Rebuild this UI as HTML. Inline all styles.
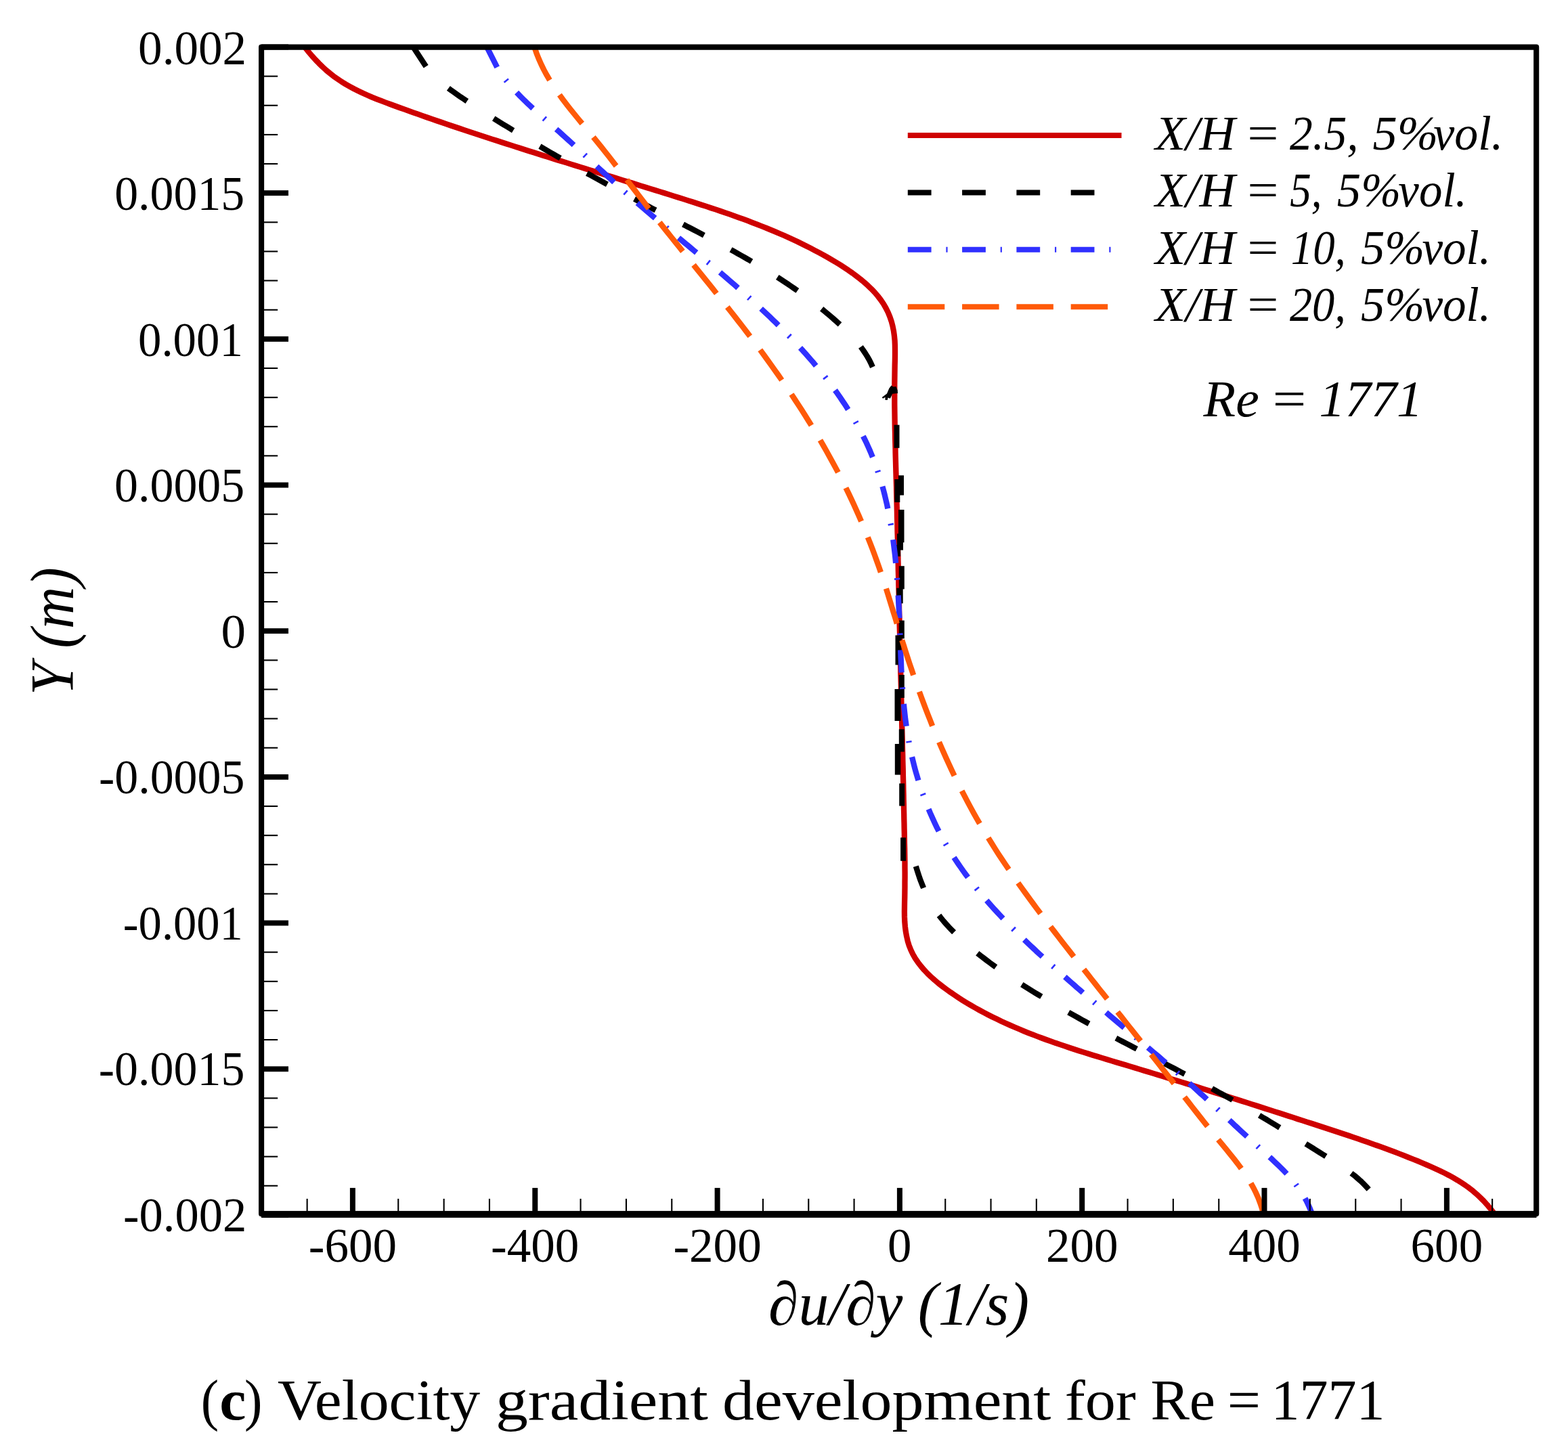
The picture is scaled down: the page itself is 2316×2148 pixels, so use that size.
<!DOCTYPE html>
<html lang="en">
<head>
<meta charset="utf-8">
<title>Velocity gradient development for Re = 1771</title>
<style>
html,body{margin:0;padding:0;background:#fff;}
body{width:2316px;height:2148px;overflow:hidden;}
svg{display:block;}
</style>
</head>
<body>
<svg width="2316" height="2148" viewBox="0 0 2316 2148">
<defs><clipPath id="plot"><rect x="386.1" y="69.5" width="1883.1" height="1724.4"/></clipPath></defs>
<rect width="2316" height="2148" fill="#fff"/>
<g clip-path="url(#plot)" fill="none" stroke-linecap="butt" stroke-linejoin="round">
<path d="M447.7 66.3 L452.1 72 L456.6 77.6 L461.3 83.1 L466.2 88.5 L471.2 93.7 L476.4 98.8 L481.8 103.7 L487.3 108.3 L493 112.8 L498.9 116.9 L504.8 120.9 L510.9 124.6 L517.1 128.1 L523.4 131.5 L529.9 134.7 L536.3 137.8 L542.9 140.7 L549.5 143.6 L556.2 146.3 L563 148.9 L569.7 151.5 L576.5 154 L583.3 156.5 L590.1 159 L597 161.4 L603.8 163.9 L610.6 166.3 L617.4 168.7 L624.2 171.1 L631 173.5 L637.9 175.9 L644.7 178.2 L651.5 180.5 L658.3 182.9 L665.2 185.2 L672 187.5 L678.8 189.8 L685.7 192.1 L692.5 194.4 L699.3 196.6 L706.2 198.9 L713 201.1 L719.9 203.4 L726.7 205.6 L733.6 207.8 L740.4 210 L747.3 212.2 L754.1 214.4 L761 216.6 L767.8 218.8 L774.7 221 L781.6 223.2 L788.4 225.3 L795.3 227.5 L802.2 229.7 L809.1 231.8 L815.9 234 L822.8 236.2 L829.7 238.3 L836.6 240.4 L843.5 242.6 L850.4 244.7 L857.3 246.9 L864.1 249 L871 251.1 L877.9 253.3 L884.8 255.4 L891.7 257.5 L898.6 259.7 L905.5 261.8 L912.4 263.9 L919.3 266.1 L926.2 268.2 L933.1 270.3 L940 272.5 L946.9 274.6 L953.8 276.7 L960.7 278.9 L967.6 281 L974.5 283.1 L981.4 285.3 L988.2 287.4 L995.1 289.6 L1002 291.7 L1008.9 293.9 L1015.8 296.1 L1022.7 298.3 L1029.5 300.5 L1036.4 302.7 L1043.3 304.9 L1050.1 307.2 L1056.9 309.4 L1063.8 311.7 L1070.6 314.1 L1077.4 316.4 L1084.2 318.8 L1091 321.3 L1097.7 323.7 L1104.5 326.2 L1111.2 328.8 L1117.9 331.3 L1124.6 334 L1131.3 336.6 L1137.9 339.4 L1144.6 342.1 L1151.2 345 L1157.8 347.8 L1164.4 350.8 L1170.9 353.8 L1177.4 356.8 L1183.9 360 L1190.4 363.2 L1196.8 366.4 L1203.2 369.8 L1209.6 373.2 L1216 376.6 L1222.3 380.2 L1228.6 383.8 L1234.8 387.5 L1241 391.3 L1247.1 395.3 L1253.2 399.3 L1259.2 403.5 L1265 407.8 L1270.7 412.2 L1276.3 416.9 L1281.7 421.7 L1286.9 426.7 L1291.9 431.9 L1296.6 437.4 L1301 443.1 L1305 449 L1308.5 455.1 L1311.7 461.5 L1314.4 468.1 L1316.7 474.8 L1318.5 481.7 L1319.9 488.7 L1320.9 495.8 L1321.6 502.9 L1321.9 510.2 L1322 517.5 L1322 524.8 L1321.9 532.1 L1321.7 539.4 L1321.6 546.6 L1321.5 553.9 L1321.4 561.1 L1321.3 568.3 L1321.3 575.5 L1321.3 582.7 L1321.3 589.9 L1321.3 597.1 L1321.4 604.3 L1321.5 611.5 L1321.6 618.7 L1321.7 625.9 L1321.8 633.1 L1322 640.3 L1322.1 647.5 L1322.3 654.7 L1322.5 661.9 L1322.6 669.1 L1322.8 676.4 L1323 683.6 L1323.2 690.8 L1323.4 698 L1323.6 705.2 L1323.8 712.4 L1324 719.6 L1324.1 726.8 L1324.3 734 L1324.5 741.2 L1324.7 748.5 L1324.9 755.7 L1325 762.9 L1325.2 770.1 L1325.4 777.3 L1325.5 784.5 L1325.7 791.7 L1325.9 798.9 L1326 806.1 L1326.2 813.3 L1326.4 820.5 L1326.5 827.7 L1326.7 834.9 L1326.8 842.1 L1327 849.4 L1327.2 856.6 L1327.3 863.8 L1327.5 871 L1327.7 878.2 L1327.8 885.4 L1328 892.6 L1328.1 899.8 L1328.3 907 L1328.5 914.2 L1328.6 921.4 L1328.8 928.7 L1329 935.9 L1329.1 943.1 L1329.3 950.3 L1329.5 957.5 L1329.6 964.7 L1329.8 971.9 L1330 979.2 L1330.2 986.4 L1330.3 993.6 L1330.5 1000.8 L1330.7 1008 L1330.9 1015.2 L1331 1022.4 L1331.2 1029.7 L1331.4 1036.9 L1331.6 1044.1 L1331.7 1051.3 L1331.9 1058.5 L1332.1 1065.7 L1332.2 1073 L1332.4 1080.2 L1332.6 1087.4 L1332.8 1094.6 L1332.9 1101.8 L1333.1 1109 L1333.3 1116.2 L1333.4 1123.4 L1333.6 1130.6 L1333.8 1137.8 L1333.9 1145.1 L1334.1 1152.3 L1334.3 1159.5 L1334.4 1166.7 L1334.6 1173.9 L1334.7 1181.1 L1334.9 1188.3 L1335 1195.5 L1335.2 1202.7 L1335.3 1209.9 L1335.5 1217 L1335.6 1224.2 L1335.8 1231.4 L1335.9 1238.6 L1336 1245.8 L1336.2 1253 L1336.3 1260.2 L1336.4 1267.4 L1336.5 1274.6 L1336.5 1281.8 L1336.6 1289 L1336.6 1296.2 L1336.5 1303.4 L1336.5 1310.7 L1336.4 1317.9 L1336.3 1325.2 L1336.1 1332.5 L1336 1339.8 L1335.9 1347.1 L1336 1354.4 L1336.3 1361.7 L1336.9 1368.9 L1337.8 1376.1 L1339.1 1383.2 L1340.7 1390.2 L1342.8 1397 L1345.4 1403.5 L1348.4 1409.8 L1351.9 1415.9 L1355.9 1421.7 L1360.2 1427.3 L1364.8 1432.7 L1369.8 1438 L1375 1443 L1380.5 1447.9 L1386.1 1452.6 L1391.9 1457.1 L1397.8 1461.5 L1403.8 1465.8 L1409.8 1469.9 L1415.9 1474 L1422 1477.9 L1428.2 1481.7 L1434.4 1485.4 L1440.7 1489 L1447 1492.5 L1453.3 1495.9 L1459.7 1499.2 L1466.1 1502.5 L1472.6 1505.6 L1479 1508.7 L1485.6 1511.7 L1492.1 1514.6 L1498.7 1517.5 L1505.3 1520.3 L1511.9 1523.1 L1518.6 1525.8 L1525.3 1528.4 L1532 1531 L1538.7 1533.5 L1545.5 1536 L1552.3 1538.4 L1559 1540.8 L1565.9 1543.1 L1572.7 1545.4 L1579.5 1547.7 L1586.4 1550 L1593.2 1552.2 L1600.1 1554.4 L1607 1556.5 L1613.9 1558.7 L1620.8 1560.8 L1627.7 1562.9 L1634.6 1565 L1641.6 1567.1 L1648.5 1569.2 L1655.4 1571.3 L1662.3 1573.3 L1669.2 1575.4 L1676.2 1577.5 L1683.1 1579.6 L1690 1581.7 L1696.9 1583.8 L1703.8 1585.9 L1710.7 1588 L1717.6 1590.1 L1724.5 1592.2 L1731.4 1594.4 L1738.3 1596.5 L1745.2 1598.6 L1752.1 1600.8 L1759 1602.9 L1765.9 1605 L1772.7 1607.2 L1779.6 1609.4 L1786.5 1611.5 L1793.4 1613.7 L1800.2 1615.8 L1807.1 1618 L1814 1620.2 L1820.9 1622.4 L1827.7 1624.5 L1834.6 1626.7 L1841.5 1628.9 L1848.3 1631.1 L1855.2 1633.3 L1862.1 1635.5 L1868.9 1637.7 L1875.8 1639.9 L1882.6 1642.1 L1889.5 1644.3 L1896.4 1646.5 L1903.2 1648.7 L1910.1 1650.9 L1916.9 1653.2 L1923.8 1655.4 L1930.6 1657.6 L1937.5 1659.8 L1944.3 1662 L1951.2 1664.3 L1958.1 1666.5 L1964.9 1668.7 L1971.8 1671 L1978.6 1673.3 L1985.4 1675.5 L1992.3 1677.8 L1999.1 1680.1 L2005.9 1682.4 L2012.8 1684.8 L2019.6 1687.2 L2026.4 1689.6 L2033.2 1692 L2040 1694.4 L2046.8 1696.9 L2053.5 1699.4 L2060.3 1701.9 L2067 1704.5 L2073.8 1707.1 L2080.5 1709.8 L2087.2 1712.5 L2093.9 1715.2 L2100.6 1718 L2107.3 1720.8 L2113.9 1723.7 L2120.5 1726.7 L2127 1729.7 L2133.5 1732.9 L2139.9 1736.2 L2146.2 1739.7 L2152.4 1743.3 L2158.4 1747.1 L2164.4 1751 L2170.2 1755.2 L2175.8 1759.6 L2181.3 1764.3 L2186.5 1769.2 L2191.6 1774.3 L2196.5 1779.7 L2201.2 1785.3 L2205.7 1791 L2210 1797" stroke="#cf0000" stroke-width="8.3"/>
<path d="M609.4 68 L629.2 98.2 M662.4 130.4 L666.8 133.7 L671.4 136.9 L675.9 140.1 L680.5 143.3 L685.2 146.4 L689.8 149.5 M729.2 174.9 L734 177.9 L738.8 180.9 L743.6 183.9 L748.4 186.8 L753.3 189.8 L758.1 192.7 M797.4 216.2 L802.4 219.1 L807.5 222.1 L812.5 225 L817.6 227.9 L822.6 230.8 L827.7 233.7 M867 256 L872 258.7 L877 261.5 L882 264.2 L886.9 266.9 L891.9 269.7 L896.9 272.4 M937 293.9 L942.2 296.7 L947.5 299.5 L952.7 302.3 L958 305 L963.3 307.8 L968.5 310.5 M1009 331.5 L1014.1 334.2 L1019.3 336.8 L1024.5 339.5 L1029.6 342.2 L1034.8 344.9 L1039.9 347.6 M1079.5 368.9 L1084.6 371.7 L1089.7 374.6 L1094.9 377.5 L1100 380.4 L1105.1 383.3 L1110.1 386.3 M1148.3 409.5 L1153.3 412.8 L1158.2 416 L1163.2 419.3 L1168.1 422.6 L1173 426 L1177.9 429.4 M1213.7 456.3 L1218.3 460.1 L1222.8 463.9 L1227.3 467.7 L1231.7 471.5 L1236.1 475.4 L1240.5 479.4 M1271.4 512.4 L1274.8 517.1 L1278 521.8 L1281 526.7 L1283.9 531.7 L1286.5 536.9 L1288.9 542.2" stroke="#000" stroke-width="8.3"/>
<path d="M1352.8 1279.8 L1354.5 1285.2 L1356.2 1290.6 L1358 1296 L1359.9 1301.3 L1362 1306.6 L1364.1 1311.8 M1387 1352.4 L1390.4 1356.7 L1393.9 1361 L1397.6 1365.2 L1401.3 1369.3 L1405.2 1373.3 L1409.1 1377.2 M1443.8 1408.2 L1448.2 1411.7 L1452.7 1415.1 L1457.2 1418.6 L1461.7 1422 L1466.3 1425.3 L1470.9 1428.6 M1509.3 1454.4 L1514.1 1457.4 L1518.9 1460.4 L1523.7 1463.4 L1528.5 1466.4 L1533.4 1469.4 L1538.3 1472.3 M1578.3 1495.6 L1583.3 1498.4 L1588.3 1501.2 L1593.4 1504 L1598.4 1506.8 L1603.4 1509.5 L1608.5 1512.3 M1648.4 1533.6 L1653.5 1536.3 L1658.6 1539 L1663.7 1541.7 L1668.8 1544.3 L1673.9 1547 L1679 1549.7 M1719.9 1571 L1724.9 1573.6 L1729.9 1576.2 L1734.9 1578.8 L1739.9 1581.5 L1744.9 1584.1 L1749.9 1586.7 M1790.1 1608.2 L1795.2 1611 L1800.3 1613.8 L1805.3 1616.5 L1810.4 1619.3 L1815.5 1622.2 L1820.5 1625 M1860.1 1647.7 L1865.1 1650.7 L1870.2 1653.7 L1875.2 1656.7 L1880.2 1659.8 L1885.2 1662.8 L1890.2 1665.9 M1928.7 1689.7 L1933.6 1692.8 L1938.6 1695.9 L1943.5 1699 L1948.5 1702.1 L1953.5 1705.2 L1958.4 1708.3 M1996 1733.2 L2000.6 1736.7 L2005 1740.5 L2009.4 1744.3 L2013.6 1748.4 L2017.7 1752.6 L2021.7 1757" stroke="#000" stroke-width="8.3"/>
<rect x="1320.5" y="627.7" width="8" height="34.1" fill="#000" stroke="none"/>
<rect x="1321.3" y="708" width="8" height="34" fill="#000" stroke="none"/>
<rect x="1327" y="702.3" width="8" height="29.3" fill="#000" stroke="none"/>
<rect x="1327" y="753" width="8.5" height="48.4" fill="#000" stroke="none"/>
<rect x="1325" y="788.4" width="9" height="24.3" fill="#000" stroke="none"/>
<rect x="1322" y="805" width="8" height="17" fill="#000" stroke="none"/>
<rect x="1327.8" y="836.2" width="8" height="34.1" fill="#000" stroke="none"/>
<rect x="1324.2" y="868.7" width="9.5" height="22.7" fill="#000" stroke="none"/>
<rect x="1327.8" y="916.6" width="8" height="26.8" fill="#000" stroke="none"/>
<rect x="1322.5" y="938.5" width="9" height="43.8" fill="#000" stroke="none"/>
<rect x="1327.8" y="997" width="8" height="34" fill="#000" stroke="none"/>
<rect x="1321.5" y="1018" width="9" height="47" fill="#000" stroke="none"/>
<rect x="1327.8" y="1077.3" width="8" height="33.3" fill="#000" stroke="none"/>
<rect x="1321.8" y="1099" width="8.5" height="45.6" fill="#000" stroke="none"/>
<rect x="1328.2" y="1157.4" width="8" height="33.2" fill="#000" stroke="none"/>
<rect x="1330.1" y="1237.4" width="8" height="34.4" fill="#000" stroke="none"/>
<path d="M1316.5 569.6 L1319.8 571.5 L1323.5 571 L1325.7 576.6 L1326 581 L1318.1 581.8 L1314.9 588.8 L1311.6 587.5 L1310.8 591 L1307.3 590.7 L1307.6 586.7 L1304.1 588.8 L1302.7 586.9 L1310 581.5 L1313.3 573.7 L1315.2 571.2Z" fill="#000" stroke="none"/>
<path d="M717.4 66 L734.2 99.4 M763.1 136.6 L767 140.7 L770.9 144.6 L774.9 148.6 L778.9 152.4 L783 156.3 L787.1 160.1 M821.6 190.8 L826 194.7 L830.3 198.6 L834.6 202.5 L838.9 206.4 L843.2 210.3 L847.5 214.3 M881.5 245.8 L885.8 249.7 L890 253.6 L894.3 257.5 L898.5 261.4 L902.8 265.3 L907 269.2 M941.3 299.8 L945.7 303.6 L950.1 307.4 L954.4 311.1 L958.8 314.8 L963.2 318.6 L967.6 322.3 M1002.4 351.4 L1006.8 355 L1011.2 358.7 L1015.6 362.3 L1020 366 L1024.3 369.6 L1028.7 373.3 M1063.5 402.4 L1067.9 406.2 L1072.4 410 L1076.8 413.8 L1081.2 417.6 L1085.6 421.4 L1090 425.3 M1124.1 456 L1128.4 460 L1132.7 464 L1137 468.1 L1141.2 472.2 L1145.5 476.3 L1149.7 480.5 M1182 513.9 L1186 518.2 L1189.9 522.6 L1193.8 527 L1197.6 531.4 L1201.5 535.8 L1205.2 540.3 M1233.5 576.5 L1236.8 581.1 L1240.1 585.8 L1243.3 590.6 L1246.5 595.3 L1249.6 600.1 L1252.7 604.9 M1274.9 644.3 L1277.4 649.4 L1279.9 654.5 L1282.2 659.6 L1284.5 664.8 L1286.7 670 L1288.9 675.3 M1303.4 718.6 L1304.9 724 L1306.3 729.4 L1307.6 734.9 L1308.9 740.4 L1310.2 745.9 L1311.3 751.4 M1319.2 797.2 L1319.9 802.9 L1320.6 808.7 L1321.3 814.5 L1322 820.2 L1322.6 826 L1323.1 831.8 M1326.7 879.5 L1327 885.1 L1327.3 890.7 L1327.6 896.3 L1327.9 901.9 L1328.1 907.5 L1328.4 913.1 M1330.2 960.4 L1330.4 965.9 L1330.6 971.5 L1330.9 977 L1331.1 982.5 L1331.3 988 L1331.6 993.5 M1334.9 1040 L1335.4 1045.5 L1336 1051 L1336.6 1056.4 L1337.2 1061.9 L1338 1067.4 L1338.7 1072.8 M1347.1 1118.3 L1348.5 1124 L1349.9 1129.8 L1351.4 1135.6 L1353 1141.3 L1354.7 1147 L1356.4 1152.8 M1371.6 1195.3 L1373.9 1200.9 L1376.3 1206.3 L1378.8 1211.8 L1381.3 1217.2 L1383.9 1222.6 L1386.6 1227.9 M1409.1 1266.7 L1412.4 1271.7 L1415.7 1276.6 L1419.1 1281.5 L1422.5 1286.4 L1426 1291.2 L1429.6 1296 M1457.3 1330.2 L1461.2 1334.7 L1465.2 1339.2 L1469.2 1343.7 L1473.3 1348.1 L1477.4 1352.5 L1481.5 1356.8 M1512.9 1388.3 L1517.3 1392.5 L1521.7 1396.7 L1526.2 1400.9 L1530.6 1405.1 L1535.1 1409.2 L1539.6 1413.3 M1572.9 1443.2 L1577.3 1447.1 L1581.7 1451 L1586.2 1454.9 L1590.6 1458.8 L1595.1 1462.6 L1599.5 1466.5 M1633.8 1495.7 L1638.2 1499.5 L1642.6 1503.2 L1647.1 1507 L1651.5 1510.7 L1656 1514.5 L1660.5 1518.2 M1695.6 1547.6 L1700 1551.4 L1704.4 1555.1 L1708.8 1558.8 L1713.2 1562.5 L1717.6 1566.3 L1721.9 1570 M1756.6 1600.3 L1761 1604.2 L1765.4 1608.2 L1769.7 1612.1 L1774 1616.1 L1778.4 1620 L1782.7 1624 M1815.8 1654.8 L1820.1 1658.8 L1824.4 1662.9 L1828.8 1666.9 L1833.1 1671 L1837.5 1675 L1841.9 1679 M1875.3 1709.4 L1879.7 1713.4 L1883.9 1717.4 L1888.2 1721.5 L1892.4 1725.6 L1896.4 1729.7 L1900.5 1734 M1927.6 1770.3 L1929.6 1774 L1931.4 1777.8 L1933.2 1781.6 L1934.9 1785.5 L1936.5 1789.5 L1938 1793.6" stroke="#3030ff" stroke-width="8.3"/>
<path d="M747 118.2 L748.6 120.2 M803.4 174.7 L805.3 176.4 M863.3 228.8 L865.2 230.6 M923 283.7 L925 285.4 M984 336 L985.9 337.7 M1045.3 387.1 L1047.3 388.7 M1105.8 439.3 L1107.7 441 M1164.9 495.8 L1166.8 497.7 M1218.5 556.6 L1220.1 558.7 M1263.6 623.1 L1264.8 625.3 M1296.2 695.3 L1297 697.7 M1315.5 773.4 L1316 776 M1325 853.9 L1325.2 856.6 M1329.3 935.5 L1329.4 938.1 M1332.9 1015.4 L1333.1 1018 M1342.3 1094.7 L1342.7 1097.2 M1362.9 1172.5 L1363.8 1175 M1396.5 1246.1 L1397.8 1248.3 M1442 1312 L1443.7 1314.1 M1496.1 1371.8 L1498 1373.7 M1554.8 1427.2 L1556.8 1428.9 M1615.8 1480.4 L1617.7 1482.1 M1677.1 1532.2 L1679.1 1533.8 M1738.5 1584.4 L1740.5 1586.1 M1798 1638.2 L1799.9 1640 M1857.4 1693.2 L1859.3 1695 M1914 1749.8 L1915.5 1751.9" stroke="#3030ff" stroke-width="8.3"/>
<path d="M789.5 69.8 L792.4 78.4 L795.7 86.8 L799.3 94.9 L803.2 102.9 L807.4 110.7 L811.9 118.3 M826.4 140.1 L831.6 147.3 L837.1 154.5 L842.6 161.5 L848.3 168.5 L854 175.5 L859.8 182.5 M876.4 202.6 L882.1 209.6 L887.8 216.6 L893.4 223.7 L899 230.8 L904.6 238 L910.1 245.1 M925.9 265.8 L931.3 272.9 L936.7 279.9 L942.1 287 L947.5 294 L952.9 301.1 L958.3 308.1 M974.3 328.6 L980 335.8 L985.6 342.9 L991.3 350 L997 357.1 L1002.7 364.2 L1008.4 371.3 M1024.5 391.3 L1030.1 398.3 L1035.8 405.3 L1041.4 412.4 L1047.1 419.4 L1052.7 426.4 L1058.3 433.5 M1074.3 453.6 L1079.9 460.7 L1085.5 467.9 L1091.1 475.1 L1096.7 482.3 L1102.3 489.6 L1107.8 496.8 M1122.8 516.9 L1128.2 524.3 L1133.6 531.7 L1138.9 539.1 L1144.2 546.6 L1149.5 554 L1154.7 561.5 M1169 582.5 L1174 590.1 L1179 597.7 L1183.9 605.3 L1188.8 613 L1193.6 620.7 L1198.4 628.4 M1211.5 650.2 L1216 658.1 L1220.5 666 L1224.9 673.9 L1229.3 681.9 L1233.6 689.9 L1237.9 697.9 M1249.4 720.7 L1253.4 728.9 L1257.3 737.1 L1261.1 745.3 L1264.8 753.5 L1268.5 761.8 L1272.1 770.2 M1281.8 793.7 L1285.2 802.3 L1288.5 810.8 L1291.7 819.4 L1294.8 828 L1297.9 836.7 L1300.9 845.3 M1308.9 869.6 L1311.6 878.2 L1314.2 886.8 L1316.9 895.4 L1319.5 904 L1322.2 912.6 L1324.8 921.3 M1332.3 945.8 L1335.1 954.4 L1337.8 963 L1340.6 971.6 L1343.4 980.2 L1346.3 988.7 L1349.2 997.3 M1357.9 1021.9 L1361 1030.4 L1364.1 1038.8 L1367.3 1047.2 L1370.6 1055.7 L1373.9 1064 L1377.2 1072.4 M1387.1 1096.3 L1390.7 1104.7 L1394.4 1113 L1398.1 1121.3 L1401.9 1129.5 L1405.7 1137.8 L1409.6 1146 M1420.7 1168.3 L1424.9 1176.4 L1429.2 1184.6 L1433.5 1192.6 L1437.9 1200.7 L1442.4 1208.7 L1447 1216.6 M1459.8 1237.9 L1464.7 1245.8 L1469.6 1253.6 L1474.6 1261.4 L1479.7 1269.1 L1484.8 1276.8 L1490 1284.4 M1503.8 1304.3 L1509.2 1311.9 L1514.7 1319.5 L1520.2 1327 L1525.7 1334.5 L1531.3 1342.1 L1536.9 1349.5 M1551.7 1369 L1557.4 1376.4 L1563.1 1383.8 L1568.8 1391.2 L1574.5 1398.5 L1580.3 1405.9 L1586 1413.2 M1600.9 1432.2 L1606.7 1439.4 L1612.4 1446.7 L1618.1 1453.9 L1623.8 1461.2 L1629.6 1468.4 L1635.3 1475.6 M1650.7 1495 L1656.4 1502.2 L1662 1509.3 L1667.7 1516.5 L1673.4 1523.6 L1679.1 1530.8 L1684.7 1537.9 M1700.3 1557.7 L1705.9 1564.8 L1711.6 1572 L1717.2 1579.2 L1722.8 1586.3 L1728.4 1593.5 L1734.1 1600.7 M1749.6 1620.7 L1755.2 1627.9 L1760.9 1635.2 L1766.5 1642.4 L1772.2 1649.6 L1777.8 1656.8 L1783.5 1663.9 M1799.4 1683.6 L1805.2 1690.6 L1811 1697.7 L1816.8 1704.8 L1822.5 1711.9 L1828.1 1719.1 L1833.4 1726.3 M1847.6 1748 L1851.5 1755 L1855.1 1762.2 L1858.4 1769.6 L1861.3 1777.2 L1863.9 1785 L1866 1793.1" stroke="#ff5a08" stroke-width="8.3"/>
</g>
<g fill="#000" stroke="none">
<rect x="386.1" y="69.6" width="1883.1" height="1723.6" fill="none" stroke="#000" stroke-width="8.1" stroke-linejoin="round"/>
<rect x="386.1" y="1788.9" width="1883.4" height="10"/>
<rect x="386.1" y="65.5" width="39.9" height="7.9"/>
<rect x="386.1" y="111.6" width="24.1" height="2.1"/>
<rect x="386.1" y="154.7" width="24.1" height="2.1"/>
<rect x="386.1" y="197.9" width="24.1" height="2.1"/>
<rect x="386.1" y="241" width="24.1" height="2.1"/>
<rect x="386.1" y="281.2" width="39.9" height="7.9"/>
<rect x="386.1" y="327.3" width="24.1" height="2.1"/>
<rect x="386.1" y="370.4" width="24.1" height="2.1"/>
<rect x="386.1" y="413.5" width="24.1" height="2.1"/>
<rect x="386.1" y="456.7" width="24.1" height="2.1"/>
<rect x="386.1" y="496.9" width="39.9" height="7.9"/>
<rect x="386.1" y="542.9" width="24.1" height="2.1"/>
<rect x="386.1" y="586.1" width="24.1" height="2.1"/>
<rect x="386.1" y="629.2" width="24.1" height="2.1"/>
<rect x="386.1" y="672.3" width="24.1" height="2.1"/>
<rect x="386.1" y="712.6" width="39.9" height="7.9"/>
<rect x="386.1" y="758.6" width="24.1" height="2.1"/>
<rect x="386.1" y="801.7" width="24.1" height="2.1"/>
<rect x="386.1" y="844.9" width="24.1" height="2.1"/>
<rect x="386.1" y="888" width="24.1" height="2.1"/>
<rect x="386.1" y="928.2" width="39.9" height="7.9"/>
<rect x="386.1" y="974.3" width="24.1" height="2.1"/>
<rect x="386.1" y="1017.4" width="24.1" height="2.1"/>
<rect x="386.1" y="1060.6" width="24.1" height="2.1"/>
<rect x="386.1" y="1103.7" width="24.1" height="2.1"/>
<rect x="386.1" y="1143.9" width="39.9" height="7.9"/>
<rect x="386.1" y="1190" width="24.1" height="2.1"/>
<rect x="386.1" y="1233.1" width="24.1" height="2.1"/>
<rect x="386.1" y="1276.2" width="24.1" height="2.1"/>
<rect x="386.1" y="1319.4" width="24.1" height="2.1"/>
<rect x="386.1" y="1359.6" width="39.9" height="7.9"/>
<rect x="386.1" y="1405.6" width="24.1" height="2.1"/>
<rect x="386.1" y="1448.8" width="24.1" height="2.1"/>
<rect x="386.1" y="1491.9" width="24.1" height="2.1"/>
<rect x="386.1" y="1535" width="24.1" height="2.1"/>
<rect x="386.1" y="1575.3" width="39.9" height="7.9"/>
<rect x="386.1" y="1621.3" width="24.1" height="2.1"/>
<rect x="386.1" y="1664.4" width="24.1" height="2.1"/>
<rect x="386.1" y="1707.6" width="24.1" height="2.1"/>
<rect x="386.1" y="1750.7" width="24.1" height="2.1"/>
<rect x="386.1" y="1791" width="39.9" height="7.9"/>
<rect x="452.6" y="1770.9" width="2.1" height="24"/>
<rect x="516.9" y="1754.9" width="8" height="40"/>
<rect x="587.2" y="1770.9" width="2.1" height="24"/>
<rect x="654.6" y="1770.9" width="2.1" height="24"/>
<rect x="721.9" y="1770.9" width="2.1" height="24"/>
<rect x="786.3" y="1754.9" width="8" height="40"/>
<rect x="856.5" y="1770.9" width="2.1" height="24"/>
<rect x="923.9" y="1770.9" width="2.1" height="24"/>
<rect x="991.2" y="1770.9" width="2.1" height="24"/>
<rect x="1055.6" y="1754.9" width="8" height="40"/>
<rect x="1125.9" y="1770.9" width="2.1" height="24"/>
<rect x="1193.2" y="1770.9" width="2.1" height="24"/>
<rect x="1260.5" y="1770.9" width="2.1" height="24"/>
<rect x="1324.9" y="1754.9" width="8" height="40"/>
<rect x="1395.2" y="1770.9" width="2.1" height="24"/>
<rect x="1462.5" y="1770.9" width="2.1" height="24"/>
<rect x="1529.8" y="1770.9" width="2.1" height="24"/>
<rect x="1594.2" y="1754.9" width="8" height="40"/>
<rect x="1664.5" y="1770.9" width="2.1" height="24"/>
<rect x="1731.8" y="1770.9" width="2.1" height="24"/>
<rect x="1799.2" y="1770.9" width="2.1" height="24"/>
<rect x="1863.5" y="1754.9" width="8" height="40"/>
<rect x="1933.8" y="1770.9" width="2.1" height="24"/>
<rect x="2001.2" y="1770.9" width="2.1" height="24"/>
<rect x="2068.5" y="1770.9" width="2.1" height="24"/>
<rect x="2132.9" y="1754.9" width="8" height="40"/>
<rect x="2203.1" y="1770.9" width="2.1" height="24"/>
</g>
<g font-family="'Liberation Serif', 'Times New Roman', serif" fill="#000">
<text y="94.6" font-size="72.3"><tspan x="204.1" textLength="160.1" lengthAdjust="spacingAndGlyphs">0.002</tspan></text>
<text y="310.1" font-size="72.3"><tspan x="169.2" textLength="192.1" lengthAdjust="spacingAndGlyphs">0.0015</tspan></text>
<text y="525.6" font-size="72.3"><tspan x="204.0" textLength="154.8" lengthAdjust="spacingAndGlyphs">0.001</tspan></text>
<text y="741.1" font-size="72.3"><tspan x="169.0" textLength="192.3" lengthAdjust="spacingAndGlyphs">0.0005</tspan></text>
<text y="956.6" font-size="72.3"><tspan x="326.5" textLength="36.5" lengthAdjust="spacingAndGlyphs">0</tspan></text>
<text y="1172.1" font-size="72.3"><tspan x="146.0" textLength="215.4" lengthAdjust="spacingAndGlyphs">-0.0005</tspan></text>
<text y="1387.6" font-size="72.3"><tspan x="181.8" textLength="177.0" lengthAdjust="spacingAndGlyphs">-0.001</tspan></text>
<text y="1603.1" font-size="72.3"><tspan x="145.8" textLength="215.6" lengthAdjust="spacingAndGlyphs">-0.0015</tspan></text>
<text y="1818.6" font-size="72.3"><tspan x="182.0" textLength="182.2" lengthAdjust="spacingAndGlyphs">-0.002</tspan></text>
<text y="1863.5" font-size="72.3"><tspan x="455.8" textLength="130.3" lengthAdjust="spacingAndGlyphs">-600</tspan></text>
<text y="1863.5" font-size="72.3"><tspan x="725.1" textLength="130.3" lengthAdjust="spacingAndGlyphs">-400</tspan></text>
<text y="1863.5" font-size="72.3"><tspan x="994.4" textLength="130.3" lengthAdjust="spacingAndGlyphs">-200</tspan></text>
<text y="1863.5" font-size="72.3"><tspan x="1311.1" textLength="35.5" lengthAdjust="spacingAndGlyphs">0</tspan></text>
<text y="1863.5" font-size="72.3"><tspan x="1544.9" textLength="106.6" lengthAdjust="spacingAndGlyphs">200</tspan></text>
<text y="1863.5" font-size="72.3"><tspan x="1814.2" textLength="106.6" lengthAdjust="spacingAndGlyphs">400</tspan></text>
<text y="1863.5" font-size="72.3"><tspan x="2083.6" textLength="106.6" lengthAdjust="spacingAndGlyphs">600</tspan></text>
<text transform="translate(108.2 1021.9) rotate(-90)" y="0" font-size="90" font-style="italic"><tspan x="-5.1" textLength="188.8" lengthAdjust="spacingAndGlyphs">Y (m)</tspan></text>
<text y="1956.8" font-size="91" font-style="italic"><tspan x="1135.1" textLength="385.1" lengthAdjust="spacingAndGlyphs">∂u/∂y (1/s)</tspan></text>
<text y="220.9" font-size="72" font-style="italic"><tspan x="1706.3" textLength="118.3" lengthAdjust="spacingAndGlyphs">X/H</tspan> <tspan x="1837.2" textLength="55.0" lengthAdjust="spacingAndGlyphs">=</tspan> <tspan x="1904.9" textLength="101.4" lengthAdjust="spacingAndGlyphs">2.5,</tspan> <tspan x="2027.4" textLength="96.7" lengthAdjust="spacingAndGlyphs">5%</tspan><tspan x="2117.3" textLength="103.0" lengthAdjust="spacingAndGlyphs">vol.</tspan></text>
<text y="305.4" font-size="72" font-style="italic"><tspan x="1706.3" textLength="118.3" lengthAdjust="spacingAndGlyphs">X/H</tspan> <tspan x="1837.2" textLength="55.0" lengthAdjust="spacingAndGlyphs">=</tspan> <tspan x="1905.3" textLength="47.2" lengthAdjust="spacingAndGlyphs">5,</tspan> <tspan x="1974.8" textLength="94.4" lengthAdjust="spacingAndGlyphs">5%</tspan><tspan x="2065.3" textLength="101.5" lengthAdjust="spacingAndGlyphs">vol.</tspan></text>
<text y="389.8" font-size="72" font-style="italic"><tspan x="1706.3" textLength="118.3" lengthAdjust="spacingAndGlyphs">X/H</tspan> <tspan x="1837.2" textLength="55.0" lengthAdjust="spacingAndGlyphs">=</tspan> <tspan x="1906.8" textLength="81.0" lengthAdjust="spacingAndGlyphs">10,</tspan> <tspan x="2010.0" textLength="94.3" lengthAdjust="spacingAndGlyphs">5%</tspan><tspan x="2100.4" textLength="101.6" lengthAdjust="spacingAndGlyphs">vol.</tspan></text>
<text y="473.6" font-size="72" font-style="italic"><tspan x="1706.3" textLength="118.3" lengthAdjust="spacingAndGlyphs">X/H</tspan> <tspan x="1837.2" textLength="55.0" lengthAdjust="spacingAndGlyphs">=</tspan> <tspan x="1904.9" textLength="83.0" lengthAdjust="spacingAndGlyphs">20,</tspan> <tspan x="2010.0" textLength="94.3" lengthAdjust="spacingAndGlyphs">5%</tspan><tspan x="2100.4" textLength="101.6" lengthAdjust="spacingAndGlyphs">vol.</tspan></text>
<text y="615.3" font-size="76" font-style="italic"><tspan x="1777.6" textLength="82.2" lengthAdjust="spacingAndGlyphs">Re</tspan> <tspan x="1874.0" textLength="59.5" lengthAdjust="spacingAndGlyphs">=</tspan> <tspan x="1948.6" textLength="152.7" lengthAdjust="spacingAndGlyphs">1771</tspan></text>
<text y="2097" font-size="85"><tspan x="296.8" textLength="26.4" lengthAdjust="spacingAndGlyphs">(</tspan><tspan x="324.3" textLength="39.2" lengthAdjust="spacingAndGlyphs" font-weight="bold">c</tspan><tspan x="360.9" textLength="26.5" lengthAdjust="spacingAndGlyphs">)</tspan> <tspan x="409.9" textLength="299.4" lengthAdjust="spacingAndGlyphs">Velocity</tspan> <tspan x="731.9" textLength="314.0" lengthAdjust="spacingAndGlyphs">gradient</tspan> <tspan x="1066.9" textLength="485.6" lengthAdjust="spacingAndGlyphs">development</tspan> <tspan x="1572.7" textLength="105.2" lengthAdjust="spacingAndGlyphs">for</tspan> <tspan x="1699.4" textLength="95.7" lengthAdjust="spacingAndGlyphs">Re</tspan> <tspan x="1812.7" textLength="49.3" lengthAdjust="spacingAndGlyphs">=</tspan> <tspan x="1877.4" textLength="168.3" lengthAdjust="spacingAndGlyphs">1771</tspan></text>
</g>
<g fill="none" stroke-width="8">
<path d="M1340.8 200H1656.5" stroke="#cf0000"/>
<path d="M1340.8 284.4H1656.5" stroke="#000" stroke-dasharray="34.8 45.5"/>
<path d="M1340.8 368.8H1662" stroke="#3030ff" stroke-dasharray="34.8 21.8 2.2 21.5"/>
<path d="M1340.8 453.2H1656.5" stroke="#ff5a08" stroke-dasharray="54.5 25.8"/>
</g>
</svg>
</body>
</html>
